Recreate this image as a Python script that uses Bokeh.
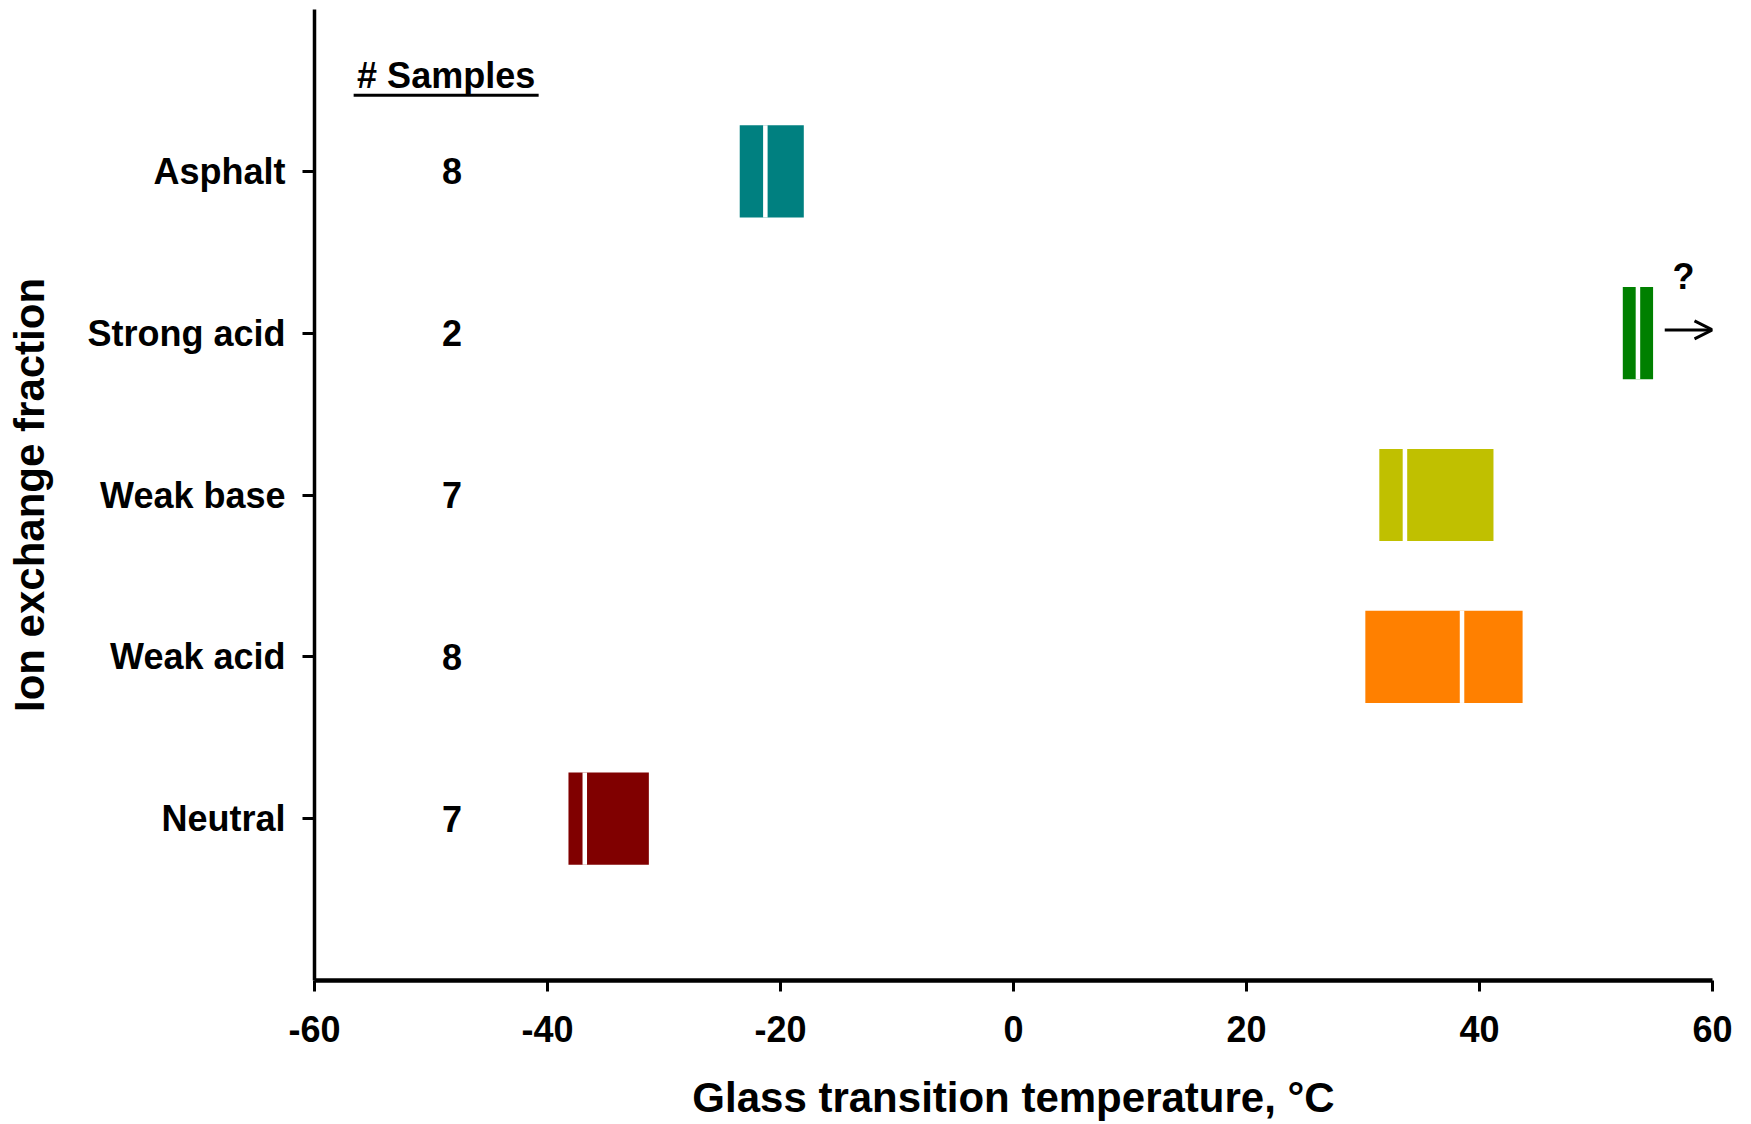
from bokeh.plotting import figure
from bokeh.models import FixedTicker, Arrow, OpenHead, Label
from bokeh.core.properties import value
from bokeh.embed import file_html
from bokeh.resources import INLINE

# ---- data ----
categories = ["Asphalt", "Strong acid", "Weak base", "Weak acid", "Neutral"]
tg_low = [-23.5, 52.3, 31.4, 30.2, -38.2]
tg_mid = [-21.3, 53.6, 33.6, 38.5, -36.8]
tg_high = [-18.0, 54.9, 41.2, 43.7, -31.3]
n_samples = ["8", "2", "7", "8", "7"]
colors = ["#008080", "#008000", "#C0C000", "#FF8000", "#800000"]
x_ticks = [-60, -40, -20, 0, 20, 40, 60]
x_tick_labels = ["-60", "-40", "-20", "0", "20", "40", "60"]

FONT = "Liberation Sans"
ypos = [len(categories) - i for i in range(len(categories))]

p = figure(width=1751, height=1124, output_backend="svg", toolbar_location=None,
           x_range=(-60, 60), y_range=(0, len(categories) + 1),
           min_border_left=314, min_border_right=39, min_border_top=9, min_border_bottom=144)
p.grid.visible = False
p.outline_line_color = None
p.background_fill_color = "white"
p.border_fill_color = "white"

bottom = [y - 0.285 for y in ypos]
top = [y + 0.285 for y in ypos]
p.quad(left=tg_low, right=tg_high, bottom=bottom, top=top, fill_color=colors, line_color=None)
p.segment(x0=tg_mid, x1=tg_mid, y0=bottom, y1=top, line_color="white", line_width=4.5)

count_x = -48.2
p.text(x=[count_x] * len(ypos), y=ypos, text=n_samples, text_font=value(FONT),
       text_font_style="bold", text_font_size="36px", text_align="center",
       text_baseline="middle", text_color="black")

# header "# Samples" with underline
hx, hy = -48.7, 5.59
p.add_layout(Label(x=hx, y=hy, text="# Samples", text_font=FONT, text_font_style="bold",
                   text_font_size="36px", text_align="center", text_baseline="middle",
                   text_color="black"))
p.segment(x0=[hx - 7.94], x1=[hx + 7.94], y0=[5.47], y1=[5.47], line_color="black", line_width=3)

# open-ended arrow with "?"
p.add_layout(Arrow(end=OpenHead(size=18, line_width=3, line_color="black"),
                   x_start=55.9, y_start=4.02, x_end=60.0, y_end=4.02,
                   line_width=3, line_color="black"))
p.add_layout(Label(x=57.5, y=4.35, text="?", text_font=FONT, text_font_style="bold",
                   text_font_size="36px", text_align="center", text_baseline="middle",
                   text_color="black"))

# axes
xa = p.xaxis[0]
xa.ticker = FixedTicker(ticks=x_ticks)
xa.major_label_overrides = {t: s for t, s in zip(x_ticks, x_tick_labels)}
xa.axis_label = "Glass transition temperature, °C"
xa.axis_label_text_font = FONT
xa.axis_label_text_font_style = "bold"
xa.axis_label_text_font_size = "42px"
xa.axis_label_text_color = "black"
xa.major_label_text_font = FONT
xa.major_label_text_font_style = "bold"
xa.major_label_text_font_size = "36px"
xa.major_label_text_color = "black"
xa.axis_line_width = 4.5
xa.axis_line_color = "black"
xa.major_tick_line_width = 3
xa.major_tick_line_color = "black"
xa.major_tick_out = 11
xa.major_tick_in = 0
xa.minor_tick_line_color = None
xa.major_label_standoff = 24
xa.axis_label_standoff = 29

ya = p.yaxis[0]
ya.ticker = FixedTicker(ticks=ypos)
ya.major_label_overrides = {y: c for y, c in zip(ypos, categories)}
ya.axis_label = "Ion exchange fraction"
ya.axis_label_text_font = FONT
ya.axis_label_text_font_style = "bold"
ya.axis_label_text_font_size = "42px"
ya.axis_label_text_color = "black"
ya.major_label_text_font = FONT
ya.major_label_text_font_style = "bold"
ya.major_label_text_font_size = "36px"
ya.major_label_text_color = "black"
ya.axis_line_width = 3.5
ya.axis_line_color = "black"
ya.major_tick_line_width = 3
ya.major_tick_line_color = "black"
ya.major_tick_out = 12
ya.major_tick_in = 0
ya.minor_tick_line_color = None
ya.major_label_standoff = 17
ya.axis_label_standoff = 31

open("out.html", "w").write(file_html(p, INLINE))
